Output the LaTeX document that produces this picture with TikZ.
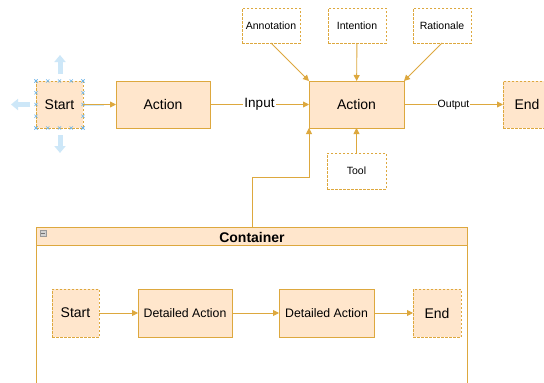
\documentclass[tikz,border=0pt]{standalone}
\usepackage{fontspec}
\setmainfont{Liberation Sans}
\usetikzlibrary{arrows.meta}
\definecolor{boxfill}{HTML}{FFE6CC}
\definecolor{boxline}{HTML}{DDA83E}
\definecolor{hint}{HTML}{CDE7F8}
\definecolor{handle}{HTML}{6AB4EA}
\begin{document}
\begin{tikzpicture}[x=1pt,y=-1pt,
  every node/.style={inner sep=0pt,outer sep=0pt},
  actbox/.style={draw=boxline,fill=boxfill,line width=0.9pt,font=\fontsize{14}{16}\selectfont},
  termbox/.style={draw=boxline,fill=boxfill,line width=0.8pt,dash pattern=on 2.5pt off 1.5pt,font=\fontsize{14}{16}\selectfont},
  notebox/.style={draw=boxline,fill=white,line width=0.8pt,dash pattern=on 2.5pt off 1.5pt,font=\fontsize{10.5}{12}\selectfont},
  link/.style={draw=boxline,line width=0.9pt,-{Triangle[length=6pt,width=6pt]}},
  hintarrow/.style={draw=hint,line width=5pt,-{Triangle[length=7pt,width=11pt]}},
  handlemark/.style={draw=handle,line width=0.6pt}]
\useasboundingbox (0,0) rectangle (544,383);
\fill[white] (0,0) rectangle (544,383);

% top row
\node[termbox,minimum width=47pt,minimum height=47pt] (start) at (59.5,104.5) {Start};
\node[actbox,minimum width=94pt,minimum height=47pt] (act1) at (163,104.5) {Action};
\node[actbox,minimum width=95pt,minimum height=47pt] (act2) at (356.5,104.5) {Action};
\node[termbox,minimum width=48pt,minimum height=47pt] (end) at (527,104.5) {End};

% context notes
\node[notebox,minimum width=58pt,minimum height=35pt] (annot) at (271,25.5) {Annotation};
\node[notebox,minimum width=58pt,minimum height=35pt] (intent) at (357,25.5) {Intention};
\node[notebox,minimum width=58pt,minimum height=35pt] (ratio) at (442,25.5) {Rationale};
\node[notebox,minimum width=59pt,minimum height=36pt] (tool) at (356.5,171) {Tool};

% selection hints around the first start node
\draw[hintarrow] (60,74) -- (60,55);
\draw[hintarrow] (60,135) -- (60,153);
\draw[hintarrow] (30,104.5) -- (11,104.5);
\draw[hint,line width=2pt] (84,104.5) -- (104,104.5);
\foreach \t in {0,0.25,0.5,0.75,1}{
  \foreach \px/\py in {36+47*\t/81, 36+47*\t/128, 36/81+47*\t, 83/81+47*\t}{
    \draw[handlemark] ({\px-1.6},{\py-1.6}) -- ({\px+1.6},{\py+1.6})
                      ({\px-1.6},{\py+1.6}) -- ({\px+1.6},{\py-1.6});
  }
}

% container
\coordinate (ctl) at (36.5,227);
\node[draw=boxline,fill=boxfill,line width=0.9pt,minimum width=431pt,minimum height=18pt,anchor=north west] (chead) at (ctl) {};
\node[font=\bfseries\fontsize{14}{16}\selectfont] (ctitle) at (252,237) {Container};
\draw[boxline,line width=0.9pt] (chead.south west) -- (36.5,390);
\draw[boxline,line width=0.9pt] (chead.south east) -- (467.5,390);
\node[draw=gray!80,fill=gray!35,minimum width=6pt,minimum height=6pt] (collapse) at (43,233) {};
\draw[gray!90!black,line width=0.8pt] ([xshift=1.3pt]collapse.west) -- ([xshift=-1.3pt]collapse.east);

% inner flow
\node[termbox,minimum width=47pt,minimum height=48pt] (istart) at (75.5,313) {Start};
\node[actbox,minimum width=94pt,minimum height=48pt,font=\fontsize{12.3}{14}\selectfont] (da1) at (185,313) {Detailed Action};
\node[actbox,minimum width=95pt,minimum height=48pt,font=\fontsize{12.3}{14}\selectfont] (da2) at (326.5,313) {Detailed Action};
\node[termbox,minimum width=48pt,minimum height=48pt] (iend) at (437,313) {End};

% connectors
\draw[link] (start) -- (act1);
\draw[link] (act1) -- node[fill=white,inner sep=1pt,font=\fontsize{13.5}{15}\selectfont] (inlbl) {Input} (act2);
\draw[link] (act2) -- node[fill=white,inner sep=1pt,font=\fontsize{10.5}{12}\selectfont] (outlbl) {Output} (end);
\draw[link] (annot.south) -- (act2.north west);
\draw[link] (intent) -- (act2);
\draw[link] (ratio.south) -- (act2.north east);
\draw[link] (tool) -- (act2);
\draw[link] (chead.north -| ctitle) |- (309,177) -- (act2.south west);
\draw[link] (istart) -- (da1);
\draw[link] (da1) -- (da2);
\draw[link] (da2) -- (iend);
\end{tikzpicture}
\end{document}
